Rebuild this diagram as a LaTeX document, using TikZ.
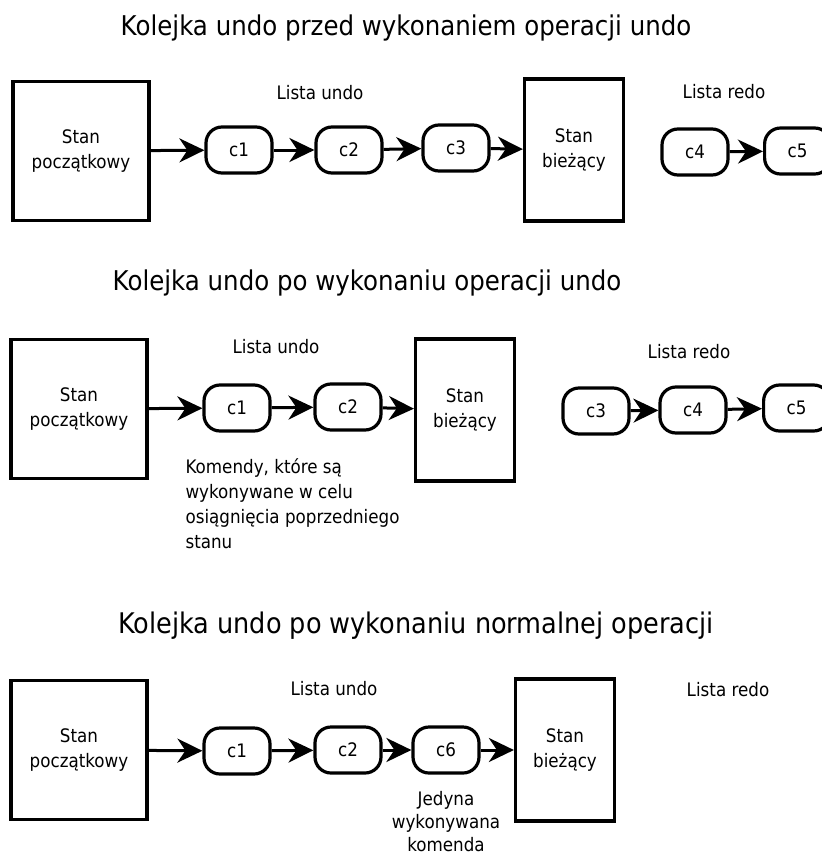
\documentclass[tikz,border=0pt]{standalone}
\usepackage{fontspec}
\setmainfont[FakeStretch=0.9]{DejaVu Sans}
\usetikzlibrary{positioning, arrows.meta}

\begin{document}
\begin{tikzpicture}[
        x=1pt, y=-1pt,
        startbox/.style={rectangle, draw=black, line width=3.2pt, minimum width=136pt, minimum height=139pt, align=center, font=\fontsize{18.6}{25}\selectfont},
        curbox/.style={rectangle, draw=black, line width=3.2pt, minimum width=99pt, minimum height=142pt, align=center, font=\fontsize{18.6}{25}\selectfont},
        cmd/.style={rectangle, rounded corners=16pt, draw=black, line width=3.2pt, minimum width=66pt, minimum height=46pt, inner sep=0pt, font=\fontsize{18.6}{20}\selectfont},
        link/.style={-{Stealth[length=25pt, width=24pt, inset=8pt]}, line width=3pt},
        heading/.style={font=\fontsize{27.2}{32}\selectfont},
        listlabel/.style={font=\fontsize{18.6}{20}\selectfont},
        note/.style={font=\fontsize{18.6}{25}\selectfont}
        ]

        \useasboundingbox (0,0) rectangle (822,857);

        % Panel 1: before undo
        \node[heading] (t1) at (406, 28) {Kolejka undo przed wykonaniem operacji undo};
        \node[startbox] (a0) at (81, 151) {Stan\\początkowy};
        \node[cmd] (a1) at (239, 150) {c1};
        \node[cmd] (a2) at (349, 150) {c2};
        \node[cmd] (a3) at (456, 148) {c3};
        \node[curbox] (a4) at (574, 150) {Stan\\bieżący};
        \node[cmd] (a5) at (695, 152) {c4};
        \node[cmd, anchor=west] (a6) at (763, 151) {c5};
        \node[listlabel] (a7) at (320, 93) {Lista undo};
        \node[listlabel] (a8) at (724, 92) {Lista redo};

        \foreach \i/\j in {0/1, 1/2, 2/3, 3/4, 5/6} {
            \draw[link] (a\i) -- (a\j);
        }

        % Panel 2: after undo
        \node[heading] (t2) at (367, 283) {Kolejka undo po wykonaniu operacji undo};
        \node[startbox] (b0) at (79, 409) {Stan\\początkowy};
        \node[cmd] (b1) at (237, 408) {c1};
        \node[cmd] (b2) at (348, 407) {c2};
        \node[curbox] (b3) at (465, 410) {Stan\\bieżący};
        \node[cmd] (b4) at (596, 411) {c3};
        \node[cmd] (b5) at (693, 410) {c4};
        \node[cmd, anchor=west] (b6) at (762, 408) {c5};
        \node[listlabel] (b7) at (276, 347) {Lista undo};
        \node[listlabel] (b8) at (689, 352) {Lista redo};
        \node[note, align=left, anchor=north west] (b9) at (182, 455) {Komendy, które są\\wykonywane w celu\\osiągnięcia poprzedniego\\stanu};

        \foreach \i/\j in {0/1, 1/2, 2/3, 4/5, 5/6} {
            \draw[link] (b\i) -- (b\j);
        }

        % Panel 3: after a normal operation
        \node[heading, font=\fontsize{28.4}{32}\selectfont] (t3) at (416, 626) {Kolejka undo po wykonaniu normalnej operacji};
        \node[startbox] (c0) at (79, 750) {Stan\\początkowy};
        \node[cmd] (c1) at (237, 751) {c1};
        \node[cmd] (c2) at (348, 750) {c2};
        \node[cmd] (c3) at (446, 750) {c6};
        \node[curbox] (c4) at (565, 750) {Stan\\bieżący};
        \node[listlabel] (c7) at (334, 689) {Lista undo};
        \node[listlabel] (c8) at (728, 690) {Lista redo};
        \node[note, align=center, anchor=north, font=\fontsize{18.6}{23}\selectfont] (c9) at (446, 788) {Jedyna\\wykonywana\\komenda};

        \foreach \i/\j in {0/1, 1/2, 2/3, 3/4} {
            \draw[link] (c\i) -- (c\j);
        }

    \end{tikzpicture}
\end{document}
